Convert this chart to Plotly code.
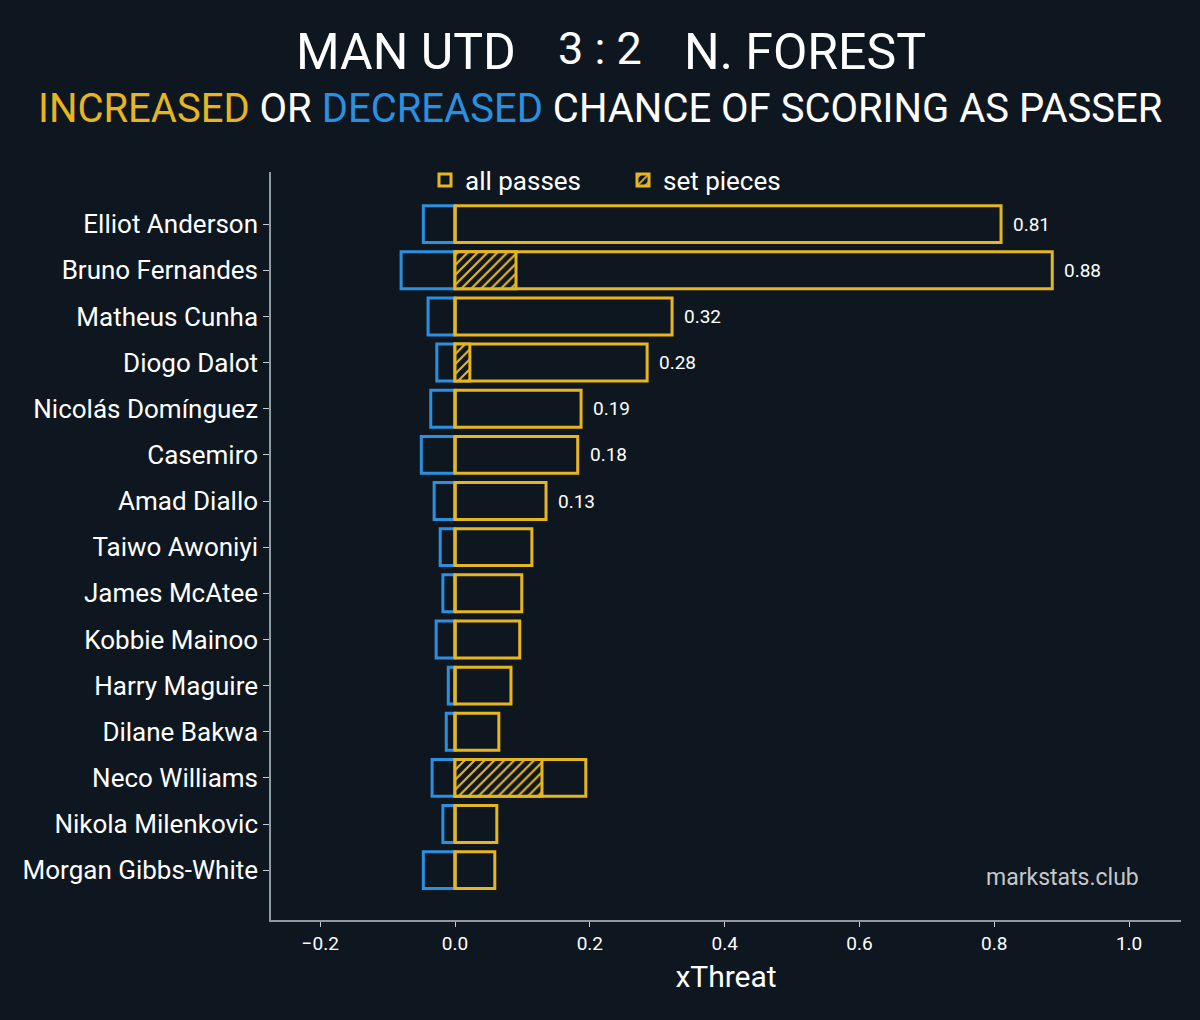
import plotly.graph_objects as go

# data
players = ["Elliot Anderson", "Bruno Fernandes", "Matheus Cunha", "Diogo Dalot",
           "Nicolás Domínguez", "Casemiro", "Amad Diallo", "Taiwo Awoniyi",
           "James McAtee", "Kobbie Mainoo", "Harry Maguire", "Dilane Bakwa",
           "Neco Williams", "Nikola Milenkovic", "Morgan Gibbs-White"]
increased = [0.81, 0.886, 0.322, 0.285, 0.187, 0.182, 0.135, 0.114,
             0.099, 0.096, 0.083, 0.065, 0.194, 0.062, 0.059]
decreased = [-0.047, -0.080, -0.040, -0.027, -0.036, -0.050, -0.031, -0.022,
             -0.018, -0.028, -0.010, -0.013, -0.034, -0.018, -0.047]
set_pieces = [0, 0.0905, 0, 0.022, 0, 0, 0, 0,
              0, 0, 0, 0, 0.129, 0, 0]
labels = ["0.81", "0.88", "0.32", "0.28", "0.19", "0.18", "0.13",
          "", "", "", "", "", "", "", ""]

BG = "#0e171f"
YELLOW = "#e6b622"
BLUE = "#2b90e0"
FONT = "Roboto"

# plot area in pixels
L, R, T, B = 271, 1181, 172, 920


def px(x, y):
    # pixel position -> paper coords
    return (x - L) / (R - L), (B - y) / (B - T)


fig = go.Figure()

fig.add_trace(go.Bar(
    y=players, x=decreased, orientation="h", width=0.8,
    marker=dict(color="rgba(0,0,0,0)", line=dict(color=BLUE, width=3)),
    showlegend=False, hoverinfo="skip"))

fig.add_trace(go.Bar(
    y=players, x=increased, orientation="h", width=0.8, name="all passes",
    marker=dict(color="rgba(0,0,0,0)", line=dict(color=YELLOW, width=3))))

fig.add_trace(go.Bar(
    y=players, x=set_pieces, orientation="h", width=0.8, name="set pieces",
    marker=dict(color=BG, line=dict(color=YELLOW, width=3),
                pattern=dict(shape="/", fgcolor=YELLOW, bgcolor=BG, fgopacity=1,
                             size=7, solidity=0.3))))

annotations = []
for p, v, t in zip(players, increased, labels):
    if t:
        annotations.append(dict(x=v, y=p, text=t, showarrow=False, xanchor="left",
                                xshift=10, font=dict(size=19, color="white", family=FONT)))


def paper_text(x, y, text, size, color="white"):
    xp, yp = px(x, y)
    return dict(x=xp, y=yp, xref="paper", yref="paper", text=text, showarrow=False,
                xanchor="center", yanchor="middle",
                font=dict(size=size, color=color, family=FONT))


annotations += [
    paper_text(406, 52, "MAN UTD", 50),
    paper_text(600, 48, "3 : 2", 45),
    paper_text(805, 52, "N. FOREST", 50),
    paper_text(600, 108,
               f"<span style='color:{YELLOW}'>INCREASED</span> OR "
               f"<span style='color:{BLUE}'>DECREASED</span> CHANCE OF SCORING AS PASSER", 40),
    paper_text(1062, 877, "markstats.club", 23, "#c4c8cc"),
]

lx, ly = px(425, 180)

fig.update_layout(
    width=1200, height=1020,
    paper_bgcolor=BG, plot_bgcolor=BG,
    barmode="overlay",
    margin=dict(l=L, r=1200 - R, t=T, b=1020 - B),
    font=dict(family=FONT, color="white"),
    showlegend=True,
    legend=dict(orientation="h", x=lx, y=ly, xanchor="left", yanchor="middle",
                entrywidth=153, bgcolor="rgba(0,0,0,0)",
                font=dict(size=26, color="white", family=FONT)),
    annotations=annotations,
    xaxis=dict(range=[-0.273, 1.077], tickvals=[-0.2, 0, 0.2, 0.4, 0.6, 0.8, 1.0],
               tickformat=".1f", showgrid=False, zeroline=False,
               showline=True, linecolor="#8c9aa3", linewidth=1.5,
               ticks="outside", ticklen=5, tickcolor="#c8ccd0",
               tickfont=dict(size=19, color="white"),
               title=dict(text="xThreat", font=dict(size=30, color="white"), standoff=12)),
    yaxis=dict(categoryorder="array", categoryarray=players,
               range=[len(players) - 1 + 1.08, -1.13],
               showgrid=False, zeroline=False,
               showline=True, linecolor="#8c9aa3", linewidth=1.5,
               ticks="outside", ticklen=6, tickcolor="#c8ccd0",
               tickfont=dict(size=26, color="white")),
)

fig.write_html("out.html", config={"displayModeBar": False},
               post_script=f"document.body.style.margin='0';"
                           f"document.body.style.background='{BG}';")
